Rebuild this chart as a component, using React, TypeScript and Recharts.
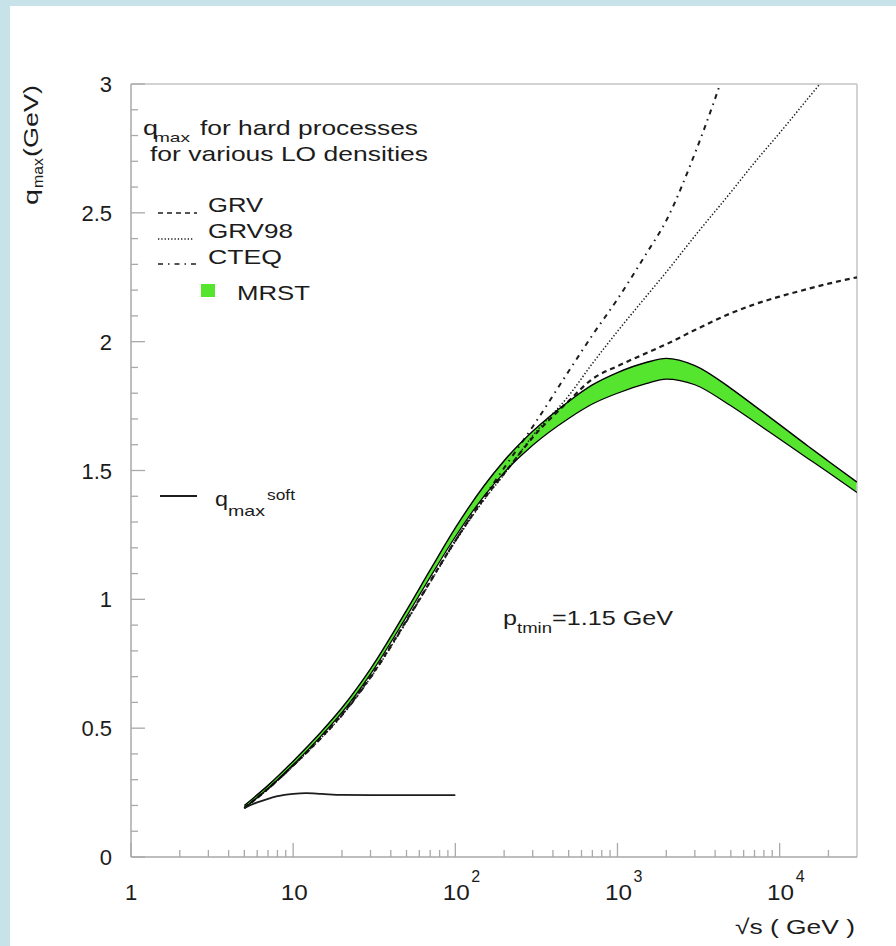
import React from 'react';
import { ComposedChart, Line, Area, XAxis, YAxis, ReferenceLine } from 'recharts';

// sqrt(s) grid (GeV) shared by the hard-process curves
const sqrtS = [5, 7, 10, 15, 20, 30, 50, 70, 100, 150, 200, 300, 500, 700, 1000, 1500, 2000, 3000, 5000, 7000, 10000, 15000, 20000, 30000];

// MRST band edges
const mrstLow = [0.19, 0.266, 0.358, 0.472, 0.561, 0.71, 0.933, 1.086, 1.243, 1.4, 1.492, 1.598, 1.702, 1.758, 1.8, 1.837, 1.855, 1.833, 1.751, 1.689, 1.622, 1.546, 1.492, 1.415];
const mrstHigh = [0.2, 0.278, 0.372, 0.488, 0.579, 0.73, 0.957, 1.114, 1.277, 1.44, 1.538, 1.652, 1.768, 1.832, 1.88, 1.919, 1.935, 1.907, 1.819, 1.751, 1.678, 1.594, 1.536, 1.455];

const grv = [0.19, 0.265, 0.355, 0.466, 0.553, 0.7, 0.918, 1.07, 1.228, 1.39, 1.488, 1.628, 1.77, 1.855, 1.905, 1.955, 1.99, 2.045, 2.11, 2.145, 2.175, 2.205, 2.225, 2.25];
const grv98 = [0.19, 0.264, 0.354, 0.464, 0.55, 0.696, 0.914, 1.066, 1.224, 1.385, 1.485, 1.635, 1.79, 1.915, 2.04, 2.175, 2.27, 2.41, 2.58, 2.695, 2.81, 2.945, 3.04, 3.17];
const cteq = [0.19, 0.264, 0.354, 0.464, 0.55, 0.696, 0.915, 1.068, 1.228, 1.395, 1.51, 1.67, 1.885, 2.025, 2.165, 2.34, 2.47, 2.73, 3.12, null, null, null, null, null];

// q_max soft
const softS = [5, 6, 7, 8, 10, 12, 15, 20, 30, 50, 100];
const softQ = [0.19, 0.212, 0.226, 0.236, 0.245, 0.248, 0.245, 0.241, 0.24, 0.24, 0.24];

// axis ticks
const xDecades = [1, 10, 100, 1000, 10000];
const xBaseLabels = ['1', '10', '10', '10', '10'];
const xExpLabels = ['', '', '2', '3', '4'];
const yMajor = [0, 0.5, 1, 1.5, 2, 2.5, 3];
const yMajorLabels = ['0', '0.5', '1', '1.5', '2', '2.5', '3'];

const xTicks = xDecades
  .flatMap((d) => [1, 2, 3, 4, 5, 6, 7, 8, 9].map((m) => d * m))
  .filter((v) => v < 30000);
const yTicks = Array.from({ length: 31 }, (_, i) => i / 10);

const rows = sqrtS.map((s, i) => ({
  s,
  band: [mrstLow[i], mrstHigh[i]],
  low: mrstLow[i],
  high: mrstHigh[i],
  grv: grv[i],
  grv98: grv98[i],
  cteq: cteq[i],
}));
const softRows = softS.map((s, i) => ({ s, soft: softQ[i] }));

const axisGrey = '#a9a9a9';
const ink = '#1c1c1c';
const green = '#56e52f';
const FONT = '"Liberation Sans", Arial, Helvetica, sans-serif';

const XTick = (props: any) => {
  const { x, y, payload } = props;
  const i = xDecades.indexOf(payload.value);
  const major = i >= 0;
  return (
    <g>
      <line x1={x} x2={x} y1={y} y2={y - (major ? 14 : 7)} stroke={axisGrey} strokeWidth={1.3} />
      {major && (
        <g fontFamily={FONT} fill={ink}>
          <text
            x={x + (i === 0 ? 0 : 1)}
            y={y + 43}
            fontSize={22}
            textAnchor="middle"
            textLength={i === 0 ? undefined : 27}
            lengthAdjust="spacingAndGlyphs"
          >
            {xBaseLabels[i]}
          </text>
          {xExpLabels[i] && (
            <text x={x + 16} y={y + 25} fontSize={16}>
              {xExpLabels[i]}
            </text>
          )}
        </g>
      )}
    </g>
  );
};

const YTick = (props: any) => {
  const { x, y, payload } = props;
  const v = payload.value;
  const k = yMajor.findIndex((m) => Math.abs(m - v) < 1e-6);
  const major = k >= 0;
  return (
    <g>
      <line x1={x} x2={x + (major ? 14 : 7)} y1={y} y2={y} stroke={axisGrey} strokeWidth={1.3} />
      {major && (
        <text x={x - 19} y={y + 8} fontSize={22} textAnchor="end" fontFamily={FONT} fill={ink}>
          {yMajorLabels[k]}
        </text>
      )}
    </g>
  );
};

const T = ({ x, y, w, size = 21, children }: any) => (
  <text x={x} y={y} fontSize={size} textLength={w} lengthAdjust="spacingAndGlyphs">
    {children}
  </text>
);

const Annotations = () => (
  <svg
    width={896}
    height={946}
    style={{ position: 'absolute', left: 0, top: 0, pointerEvents: 'none' }}
    fontFamily={FONT}
    fill={ink}
  >
    {/* y axis title */}
    <g transform="translate(38,205) rotate(-90)">
      <T x={0} y={0} w={16}>q</T>
      <T x={17} y={5} w={30} size={15}>max</T>
      <T x={48} y={0} w={72}>(GeV)</T>
    </g>
    {/* x axis title */}
    <T x={735} y={934} w={120}>√s ( GeV )</T>

    {/* header */}
    <T x={143} y={135} w={15}>q</T>
    <T x={154} y={142} w={36} size={13}>max</T>
    <T x={200} y={135} w={218}>for hard processes</T>
    <T x={150} y={161} w={278}>for various LO densities</T>

    {/* legend */}
    <line x1={158} x2={197} y1={213} y2={213} stroke={ink} strokeWidth={1.6} strokeDasharray="5 4" />
    <T x={208} y={212} w={55}>GRV</T>
    <line x1={158} x2={193} y1={239} y2={239} stroke={ink} strokeWidth={1.3} strokeDasharray="1.3 2" />
    <T x={208} y={238} w={85}>GRV98</T>
    <line x1={158} x2={196} y1={264} y2={264} stroke={ink} strokeWidth={1.6} strokeDasharray="5 5 1.5 5" />
    <T x={208} y={264} w={74}>CTEQ</T>
    <rect x={201} y={284} width={14} height={13} fill={green} />
    <T x={237} y={300} w={73}>MRST</T>

    <line x1={160} x2={197} y1={496} y2={496} stroke={ink} strokeWidth={2} />
    <T x={215} y={506} w={13}>q</T>
    <T x={228} y={516} w={37} size={15}>max</T>
    <T x={267} y={500} w={28} size={14}>soft</T>

    {/* cut label */}
    <T x={503} y={625} w={14}>p</T>
    <T x={517} y={633} w={35} size={15}>tmin</T>
    <T x={552} y={625} w={121}>=1.15 GeV</T>
  </svg>
);

export default function App() {
  return (
    <div style={{ position: 'absolute', left: 0, top: 0, width: 896, height: 946, background: '#c7e3e9' }}>
      <div style={{ position: 'absolute', left: 10, top: 6, width: 886, height: 940, background: '#ffffff' }} />
      <div style={{ position: 'absolute', left: 0, top: 0 }}>
        <ComposedChart width={896} height={946} data={rows} margin={{ top: 84, right: 39, bottom: 59, left: 71 }}>
          <XAxis
            dataKey="s"
            type="number"
            scale="log"
            domain={[1, 30000]}
            allowDataOverflow
            ticks={xTicks}
            interval={0}
            height={30}
            tickSize={0}
            tickMargin={0}
            tickLine={false}
            tick={<XTick />}
            axisLine={{ stroke: axisGrey, strokeWidth: 1.5 }}
          />
          <YAxis
            type="number"
            domain={[0, 3]}
            allowDataOverflow
            ticks={yTicks}
            interval={0}
            width={60}
            tickSize={0}
            tickMargin={0}
            tickLine={false}
            tick={<YTick />}
            axisLine={{ stroke: axisGrey, strokeWidth: 1.5 }}
          />
          <ReferenceLine y={3} stroke="#c4c4c4" strokeWidth={1.5} />
          <ReferenceLine x={30000} stroke="#c4c4c4" strokeWidth={1.5} />

          <Line dataKey="grv" type="monotone" stroke={ink} strokeWidth={2.2} strokeDasharray="5 4" dot={false} activeDot={false} isAnimationActive={false} />
          <Line dataKey="grv98" type="monotone" stroke={ink} strokeWidth={1.5} strokeDasharray="1.4 2" dot={false} activeDot={false} isAnimationActive={false} />
          <Line dataKey="cteq" type="monotone" stroke={ink} strokeWidth={2} strokeDasharray="5 5 1.5 5" dot={false} activeDot={false} isAnimationActive={false} />

          <Area dataKey="band" type="monotone" fill={green} fillOpacity={1} stroke="none" isAnimationActive={false} activeDot={false} />
          <Line dataKey="high" type="monotone" stroke="#000" strokeWidth={1.4} dot={false} activeDot={false} isAnimationActive={false} />
          <Line dataKey="low" type="monotone" stroke="#000" strokeWidth={1.2} dot={false} activeDot={false} isAnimationActive={false} />

          <Line data={softRows} dataKey="soft" type="monotone" stroke={ink} strokeWidth={1.8} dot={false} activeDot={false} isAnimationActive={false} />
        </ComposedChart>
      </div>
      <Annotations />
    </div>
  );
}
